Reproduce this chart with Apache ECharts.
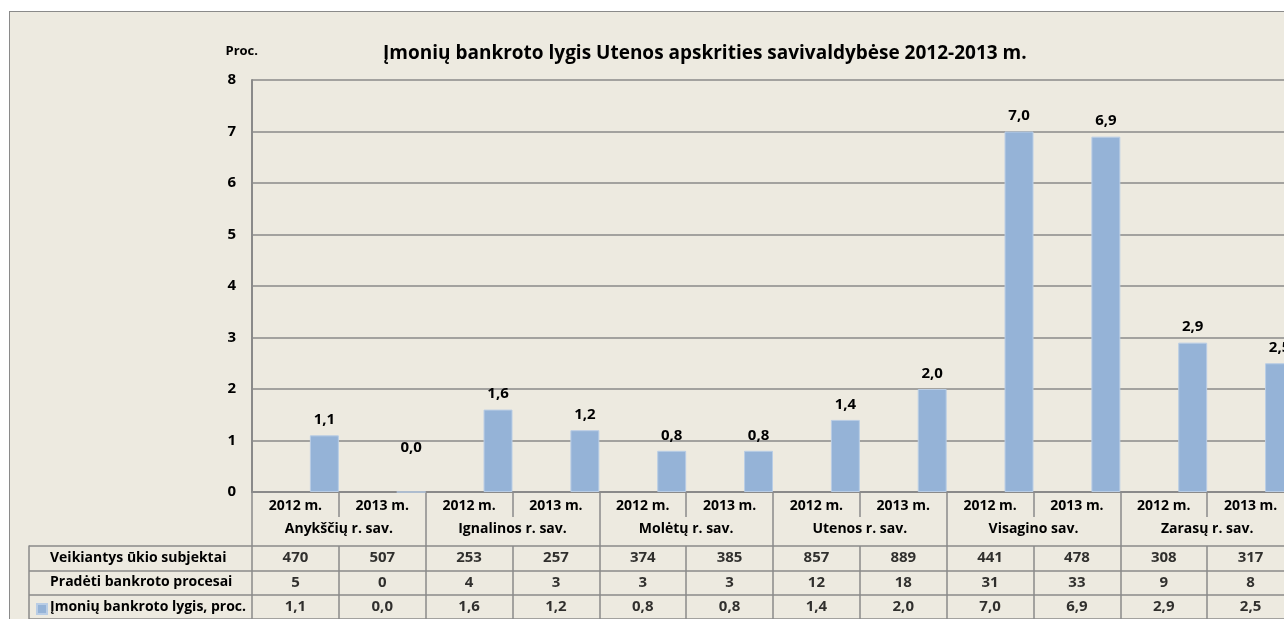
<!DOCTYPE html>
<html>
<head>
<meta charset="utf-8">
<script src="https://cdn.jsdelivr.net/npm/echarts@6/dist/echarts.min.js"></script>
<style>
  html, body { margin: 0; padding: 0; background: #fff; overflow: hidden; }
  #frame {
    position: absolute; left: 9px; top: 11px; width: 1400px; height: 700px;
    background: #edeae0; border: 1px solid #8a8a8a;
  }
  #chart { position: absolute; left: 0; top: 0; width: 1320px; height: 619px; }
</style>
</head>
<body>
<div id="frame"></div>
<div id="chart"></div>
<script>
  // duomenys
  const years = ['2012 m.', '2013 m.', '2012 m.', '2013 m.', '2012 m.', '2013 m.',
                 '2012 m.', '2013 m.', '2012 m.', '2013 m.', '2012 m.', '2013 m.']
  const municipalities = ['Anykščių r. sav.', 'Ignalinos r. sav.', 'Molėtų r. sav.',
                          'Utenos r. sav.', 'Visagino sav.', 'Zarasų r. sav.']
  const activeSubjects = [470, 507, 253, 257, 374, 385, 857, 889, 441, 478, 308, 317]
  const bankruptcies = [5, 0, 4, 3, 3, 3, 12, 18, 31, 33, 9, 8]
  const bankruptcyRate = [1.1, 0.0, 1.6, 1.2, 0.8, 0.8, 1.4, 2.0, 7.0, 6.9, 2.9, 2.5]
  const rowHeaders = ['Veikiantys ūkio subjektai', 'Pradėti bankroto procesai', 'Įmonių bankroto lygis, proc.']
  const yTicks = [0, 8, 1]
  const seriesName = 'Įmonių bankroto lygis, proc.'

  const fontFamily = '"Open Sans", sans-serif'
  const lineColor = '#8a8a8a'
  const fmt = v => v.toFixed(1).replace('.', ',')

  const tableRows = [activeSubjects.map(String), bankruptcies.map(String), bankruptcyRate.map(fmt)]
  const cellData = []
  tableRows.forEach((row, r) => row.forEach((txt, c) => cellData.push([c, r, txt])))

  const chart = echarts.init(document.getElementById('chart'))

  const option = {
    backgroundColor: 'transparent',
    textStyle: { fontFamily },
    title: {
      text: 'Įmonių bankroto lygis Utenos apskrities savivaldybėse 2012-2013 m.',
      left: 383,
      top: 44,
      padding: 0,
      textStyle: { fontFamily, fontSize: 19, fontWeight: 'bold', color: '#000' }
    },
    legend: {
      data: [seriesName],
      left: 36,
      top: 603,
      padding: 0,
      itemWidth: 10,
      itemHeight: 10,
      icon: 'rect',
      formatter: () => '',
      selectedMode: false
    },
    grid: [
      { left: 252, top: 80, width: 1042, height: 412 },
      { left: 252, top: 546, width: 1042, height: 75 },
      { left: 29, top: 546, width: 223, height: 75 }
    ],
    xAxis: [
      {
        type: 'category', gridIndex: 0, data: years,
        axisLine: { lineStyle: { color: lineColor, width: 2 } },
        axisTick: { show: true, interval: 0, length: 25, lineStyle: { color: lineColor, width: 1.5 } },
        axisLabel: { interval: 0, margin: 7, fontSize: 14, fontWeight: 'bold', color: '#000' }
      },
      {
        type: 'category', gridIndex: 0, position: 'bottom', data: municipalities,
        axisLine: { show: false },
        axisTick: { show: true, interval: 0, length: 54, lineStyle: { color: lineColor, width: 1.5 } },
        axisLabel: { interval: 0, margin: 30, fontSize: 14, fontWeight: 'bold', color: '#000' }
      },
      {
        type: 'category', gridIndex: 1, data: years,
        axisLine: { show: false }, axisTick: { show: false }, axisLabel: { show: false },
        splitLine: { show: true, interval: 0, lineStyle: { color: lineColor, width: 1.5 } }
      },
      {
        type: 'category', gridIndex: 2, data: [''],
        axisLine: { show: false }, axisTick: { show: false }, axisLabel: { show: false }
      }
    ],
    yAxis: [
      {
        type: 'value', gridIndex: 0, min: yTicks[0], max: yTicks[1], interval: yTicks[2],
        name: 'Proc.', nameLocation: 'end', nameGap: 22,
        nameTextStyle: { fontFamily, fontSize: 13, fontWeight: 'bold', color: '#000', align: 'right', padding: [0, -6, 0, 0] },
        axisLine: { show: true, lineStyle: { color: lineColor, width: 2 } },
        axisTick: { show: false },
        axisLabel: { margin: 16, fontSize: 15, fontWeight: 'bold', color: '#000' },
        splitLine: { lineStyle: { color: lineColor, width: 1.5 } }
      },
      {
        type: 'category', gridIndex: 1, data: rowHeaders, inverse: true,
        axisLine: { show: false }, axisTick: { show: false }, axisLabel: { show: false },
        splitLine: { show: true, interval: 0, lineStyle: { color: lineColor, width: 1.5 } }
      },
      {
        type: 'category', gridIndex: 2, data: rowHeaders, inverse: true,
        axisLine: { show: true, lineStyle: { color: lineColor, width: 1.5 } },
        axisTick: { show: false },
        axisLabel: { inside: true, margin: 21, align: 'left', fontSize: 14, fontWeight: 'bold', color: '#000' },
        splitLine: { show: true, interval: 0, lineStyle: { color: lineColor, width: 1.5 } }
      }
    ],
    series: [
      // tušti stulpeliai, kaip Excel'yje (kitos dvi eilutės be užpildo)
      { type: 'bar', name: 'a', xAxisIndex: 0, yAxisIndex: 0, data: years.map(() => '-'), barGap: '0%', barCategoryGap: '0%' },
      { type: 'bar', name: 'b', xAxisIndex: 0, yAxisIndex: 0, data: years.map(() => '-'), barGap: '0%', barCategoryGap: '0%' },
      {
        type: 'bar', name: seriesName, xAxisIndex: 0, yAxisIndex: 0,
        barGap: '0%', barCategoryGap: '0%',
        data: bankruptcyRate.map(v => ({
          value: v,
          label: v === 0 ? { distance: 36 } : undefined
        })),
        itemStyle: { color: '#95b3d7', borderColor: '#b9cde5', borderWidth: 1 },
        label: {
          show: true, position: 'top', distance: 8,
          fontSize: 15, fontWeight: 'bold', color: '#000',
          formatter: p => fmt(p.value)
        }
      },
      {
        type: 'scatter', xAxisIndex: 2, yAxisIndex: 1, data: cellData,
        symbolSize: 0, silent: true,
        label: {
          show: true, position: 'inside',
          fontSize: 15, fontWeight: 'bold', color: '#000',
          formatter: p => p.value[2]
        }
      }
    ]
  }

  chart.setOption(option)
</script>
</body>
</html>
